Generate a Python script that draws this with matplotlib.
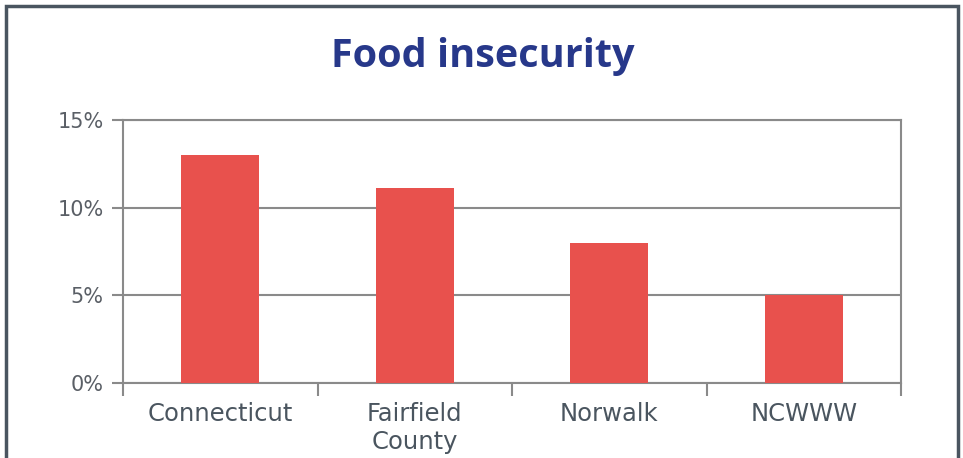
import matplotlib.pyplot as plt
from matplotlib.patches import Rectangle
from matplotlib.ticker import FuncFormatter

# chart values
categories = ['Connecticut', 'Fairfield\nCounty', 'Norwalk', 'NCWWW']
values = [13, 11.1, 8, 5]
y_ticks = [0, 5, 10, 15]

bar_color = '#e8514d'
grid_color = '#8a8a8a'
title_color = '#27388a'

fig = plt.figure(figsize=(9.63, 4.58), dpi=100)
fig.patch.set_facecolor('white')

# outer frame (bottom edge is cut off in the original)
fig.patches.append(Rectangle((5.5 / 963, -0.05), 952 / 963, 1.05 - 6.5 / 458,
                             transform=fig.transFigure, fill=False,
                             edgecolor='#4a5560', linewidth=2.5))

ax = fig.add_axes([123 / 963, 1 - 383 / 458, (901 - 123) / 963, (383 - 120) / 458])
ax.bar(range(len(categories)), values, width=0.4, color=bar_color, zorder=3)

ax.set_xlim(-0.5, len(categories) - 0.5)
ax.set_ylim(0, 15)
ax.set_yticks(y_ticks)
ax.yaxis.set_major_formatter(FuncFormatter(lambda v, p: f'{int(v)}%'))
ax.grid(axis='y', color=grid_color, linewidth=1.5, zorder=0)

for s in ax.spines.values():
    s.set_color(grid_color)
    s.set_linewidth(1.5)

# category labels centred, ticks at the boundaries
ax.set_xticks(range(len(categories)))
ax.set_xticklabels(categories, fontsize=17.5, color='#4a555f', family='DejaVu Sans',
                   linespacing=1.2, va='top')
ax.tick_params(axis='x', length=0, pad=14)
ax.set_xticks([i - 0.5 for i in range(len(categories) + 1)], minor=True)
ax.tick_params(axis='x', which='minor', length=9, width=1.5, color=grid_color)
ax.tick_params(axis='y', length=8, width=1.5, color=grid_color, pad=6,
               labelsize=15, labelcolor='#5a5f66')
for lab in ax.get_yticklabels():
    lab.set_family('DejaVu Sans')

fig.text(483 / 963, 1 - 57 / 458, 'Food insecurity', ha='center', va='center',
         fontsize=28.5, fontweight='bold', color=title_color, family='Open Sans')

plt.savefig('out.png', dpi=100)
